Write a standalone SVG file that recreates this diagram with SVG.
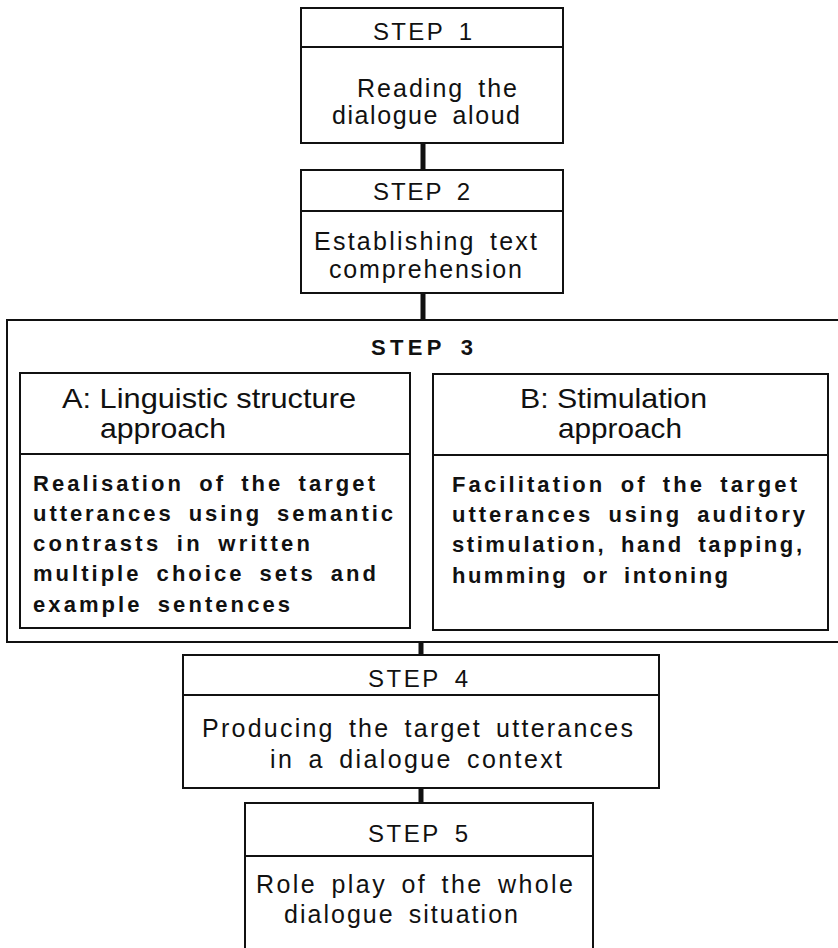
<svg xmlns="http://www.w3.org/2000/svg" width="838" height="948" viewBox="0 0 838 948">
  <style>
    .box { fill: #fff; stroke: #111; stroke-width: 2; }
    .div { stroke: #111; stroke-width: 2; }
    .link { stroke: #111; stroke-width: 5; }
    text { font-family: "Liberation Sans", Arial, sans-serif; fill: #111; }
    .step { font-size: 24px; word-spacing: 5px; }
    .body { font-size: 25px; word-spacing: 5px; }
    .head { font-size: 28px; }
    .bold { font-size: 22px; font-weight: bold; word-spacing: 6px; }
    .title { font-size: 22px; font-weight: bold; word-spacing: 5px; }
  </style>
  <rect width="838" height="948" fill="#fff"/>

  <g id="connectors">
    <line class="link" x1="423" y1="143" x2="423" y2="170"/>
    <line class="link" x1="423" y1="293" x2="423" y2="320"/>
    <line class="link" x1="421" y1="642" x2="421" y2="655"/>
    <line class="link" x1="421" y1="788" x2="421" y2="803"/>
  </g>

  <g id="step1">
    <rect class="box" x="301" y="8" width="262" height="135"/>
    <line class="div" x1="301" y1="47" x2="563" y2="47"/>
    <text class="step" x="373" y="40" textLength="99" lengthAdjust="spacing">STEP 1</text>
    <text class="body" x="357" y="97" textLength="160" lengthAdjust="spacing">Reading the</text>
    <text class="body" x="332" y="124" textLength="188" lengthAdjust="spacing">dialogue aloud</text>
  </g>

  <g id="step2">
    <rect class="box" x="301" y="170" width="262" height="123"/>
    <line class="div" x1="301" y1="211" x2="563" y2="211"/>
    <text class="step" x="373" y="200" textLength="97" lengthAdjust="spacing">STEP 2</text>
    <text class="body" x="314" y="250" textLength="223" lengthAdjust="spacing">Establishing text</text>
    <text class="body" x="329" y="278" textLength="193" lengthAdjust="spacing">comprehension</text>
  </g>

  <g id="step3">
    <rect class="box" x="7" y="320" width="840" height="322"/>
    <text class="title" x="371" y="355" textLength="102" lengthAdjust="spacing">STEP 3</text>
  </g>

  <g id="step3a">
    <rect class="box" x="20" y="373" width="390" height="255"/>
    <line class="div" x1="20" y1="454" x2="410" y2="454"/>
    <text class="head" x="62" y="408" textLength="294" lengthAdjust="spacingAndGlyphs">A: Linguistic structure</text>
    <text class="head" x="100" y="438" textLength="126" lengthAdjust="spacingAndGlyphs">approach</text>
    <text class="bold" x="33" y="491" textLength="342" lengthAdjust="spacing">Realisation of the target</text>
    <text class="bold" x="33" y="521" textLength="360" lengthAdjust="spacing">utterances using semantic</text>
    <text class="bold" x="33" y="551" textLength="277" lengthAdjust="spacing">contrasts in written</text>
    <text class="bold" x="33" y="581" textLength="343" lengthAdjust="spacing">multiple choice sets and</text>
    <text class="bold" x="33" y="612" textLength="257" lengthAdjust="spacing">example sentences</text>
  </g>

  <g id="step3b">
    <rect class="box" x="433" y="374" width="395" height="256"/>
    <line class="div" x1="433" y1="455" x2="828" y2="455"/>
    <text class="head" x="520" y="408" textLength="187" lengthAdjust="spacingAndGlyphs">B: Stimulation</text>
    <text class="head" x="558" y="438" textLength="124" lengthAdjust="spacingAndGlyphs">approach</text>
    <text class="bold" x="452" y="492" textLength="345" lengthAdjust="spacing">Facilitation of the target</text>
    <text class="bold" x="452" y="522" textLength="353" lengthAdjust="spacing">utterances using auditory</text>
    <text class="bold" x="452" y="552" textLength="350" lengthAdjust="spacing">stimulation, hand tapping,</text>
    <text class="bold" x="452" y="583" textLength="276" lengthAdjust="spacing">humming or intoning</text>
  </g>

  <g id="step4">
    <rect class="box" x="183" y="655" width="476" height="133"/>
    <line class="div" x1="183" y1="695" x2="659" y2="695"/>
    <text class="step" x="368" y="687" textLength="100" lengthAdjust="spacing">STEP 4</text>
    <text class="body" x="202" y="737" textLength="431" lengthAdjust="spacing">Producing the target utterances</text>
    <text class="body" x="270" y="768" textLength="292" lengthAdjust="spacing">in a dialogue context</text>
  </g>

  <g id="step5">
    <rect class="box" x="245" y="803" width="348" height="160"/>
    <line class="div" x1="245" y1="856" x2="593" y2="856"/>
    <text class="step" x="368" y="842" textLength="100" lengthAdjust="spacing">STEP 5</text>
    <text class="body" x="256" y="893" textLength="317" lengthAdjust="spacing">Role play of the whole</text>
    <text class="body" x="284" y="923" textLength="234" lengthAdjust="spacing">dialogue situation</text>
  </g>
</svg>
